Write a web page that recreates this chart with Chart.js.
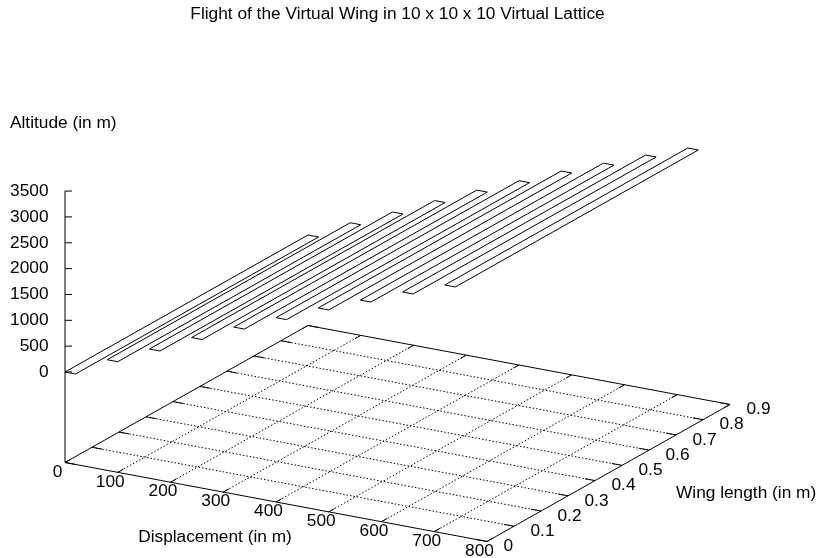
<!DOCTYPE html>
<html>
<head>
<meta charset="utf-8">
<title>Flight of the Virtual Wing</title>
<script src="https://cdn.jsdelivr.net/npm/chart.js@4.4.0/dist/chart.umd.min.js"></script>
<style>
  html, body { margin: 0; padding: 0; background: #fff; }
  #wrap { width: 821px; height: 558px; }
</style>
</head>
<body>
<div id="wrap"><canvas id="wingChart" width="821" height="558"></canvas></div>
<script>
// tick values of the three axes
const displacementTicks = [0, 100, 200, 300, 400, 500, 600, 700, 800];
const wingTicks = [0, 0.1, 0.2, 0.3, 0.4, 0.5, 0.6, 0.7, 0.8, 0.9];
const altitudeTicks = [0, 500, 1000, 1500, 2000, 2500, 3000, 3500];

// one strip per flight step
const stripDisplacement = [0, 80, 160, 240, 320, 400, 480, 560, 640, 720];
const stripAltitude = [0, 390, 750, 1125, 1480, 1815, 2155, 2460, 2770, 3058];
const stripDepth = 20; // displacement covered by one strip
const wingRange = [0, 0.9];

const TITLE = "Flight of the Virtual Wing in 10 x 10 x 10 Virtual Lattice";
const FONT = '17.3px "Liberation Sans", Arial, Helvetica, sans-serif';

// gnuplot-like orthographic view, worked out from the reference
const view = {
  ox: 65, oy: 372,          // where (0, 0, 0) lands
  dX: 0.5275, dY: 0.09875,  // per m of displacement
  wX: 270, wY: -152.2,      // per m of wing length
  zY: 0.0517,               // per m of altitude
};
const zBase = -1750; // base plane is half the z range below zero (ticslevel 0.5)
const dMax = displacementTicks[displacementTicks.length - 1];
const wMax = wingTicks[wingTicks.length - 1];
const zMax = altitudeTicks[altitudeTicks.length - 1];

function project(d, w, z) {
  return {
    x: view.ox + d * view.dX + w * view.wX,
    y: view.oy + d * view.dY + w * view.wY - z * view.zY,
  };
}

// list of segments -> one point list with gaps between them
function segments(list) {
  const out = [];
  list.forEach((seg) => {
    seg.forEach((p) => out.push(p));
    out.push({ x: null, y: null });
  });
  return out;
}

function lineSet(data, extra) {
  return Object.assign(
    {
      data: data,
      showLine: true,
      borderColor: "#000",
      borderWidth: 1,
      pointRadius: 0,
      spanGaps: false,
      tension: 0,
    },
    extra || {}
  );
}

// dotted grid on the base plane
const gridSegs = [];
displacementTicks.slice(1, -1).forEach((d) => {
  gridSegs.push([project(d, 0, zBase), project(d, wMax, zBase)]);
});
wingTicks.slice(1, -1).forEach((w) => {
  gridSegs.push([project(0, w, zBase), project(dMax, w, zBase)]);
});

// base border + z axis
const borderSegs = [
  [
    project(0, 0, zBase),
    project(dMax, 0, zBase),
    project(dMax, wMax, zBase),
    project(0, wMax, zBase),
    project(0, 0, zBase),
  ],
  [project(0, 0, zBase), project(0, 0, zMax)],
];

// tick marks, mirrored on the opposite edges
const dTic = 0.021;
const wTic = 19;
const tickSegs = [];
displacementTicks.forEach((d) => {
  tickSegs.push([project(d, 0, zBase), project(d, dTic, zBase)]);
  tickSegs.push([project(d, wMax, zBase), project(d, wMax - dTic, zBase)]);
});
wingTicks.forEach((w) => {
  tickSegs.push([project(dMax, w, zBase), project(dMax - wTic, w, zBase)]);
  tickSegs.push([project(0, w, zBase), project(wTic, w, zBase)]);
});
altitudeTicks.forEach((z) => {
  const p = project(0, 0, z);
  tickSegs.push([p, { x: p.x + 7, y: p.y }]);
});

// the wing strips
const stripSets = stripDisplacement.map((d, i) => {
  const z = stripAltitude[i];
  return lineSet([
    project(d, wingRange[0], z),
    project(d, wingRange[1], z),
    project(d + stripDepth, wingRange[1], z),
    project(d + stripDepth, wingRange[0], z),
    project(d, wingRange[0], z),
  ]);
});

const textPlugin = {
  id: "gnuplotText",
  afterDatasetsDraw(chart) {
    const { ctx } = chart;
    const sx = chart.scales.x;
    const sy = chart.scales.y;
    const at = (p, dx, dy) => [sx.getPixelForValue(p.x) + dx, sy.getPixelForValue(p.y) + dy];
    ctx.save();
    ctx.fillStyle = "#000";
    ctx.font = FONT;
    ctx.textBaseline = "middle";

    // title
    ctx.textAlign = "center";
    ctx.fillText(TITLE, 397.5, 14);

    // displacement tick labels
    displacementTicks.forEach((d) => {
      const [x, y] = at(project(d, 0, zBase), -7.5, 9.5);
      ctx.fillText(String(d), x, y);
    });
    ctx.fillText("Displacement (in m)", 215, 537);

    // wing tick labels
    ctx.textAlign = "left";
    wingTicks.forEach((w) => {
      const [x, y] = at(project(dMax, w, zBase), 16.5, 5);
      ctx.fillText(w === 0 ? "0" : w.toFixed(1), x, y);
    });
    ctx.fillText("Wing length (in m)", 676, 493.5);

    // altitude tick labels
    ctx.textAlign = "right";
    altitudeTicks.forEach((z) => {
      const [x, y] = at(project(0, 0, z), -16.5, 0);
      ctx.fillText(String(z), x, y);
    });
    ctx.textAlign = "left";
    ctx.fillText("Altitude (in m)", 10, 123);
    ctx.restore();
  },
};

const chart = new Chart(document.getElementById("wingChart"), {
  type: "scatter",
  data: {
    datasets: [
      ...stripSets,
      lineSet(segments(borderSegs)),
      lineSet(segments(tickSegs)),
      lineSet(segments(gridSegs), { borderDash: [1.5, 2], borderColor: "#000" }),
    ],
  },
  options: {
    responsive: false,
    animation: false,
    devicePixelRatio: 1,
    layout: { padding: 0 },
    plugins: {
      legend: { display: false },
      tooltip: { enabled: false },
      title: { display: false },
    },
    scales: {
      x: { type: "linear", min: 0, max: 821, display: false },
      y: { type: "linear", min: 0, max: 558, reverse: true, display: false },
    },
  },
  plugins: [textPlugin],
});
</script>
</body>
</html>
